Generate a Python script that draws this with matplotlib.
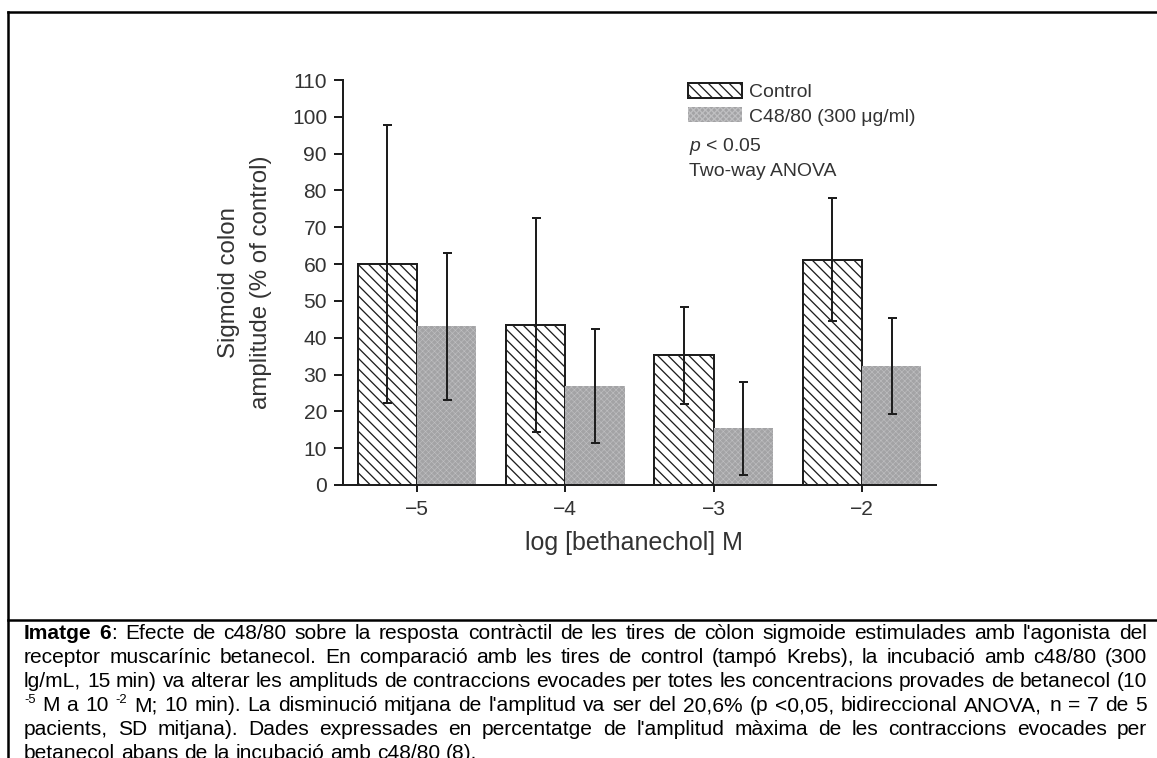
import re
import numpy as np
import matplotlib
matplotlib.use("Agg")
import matplotlib.pyplot as plt
from matplotlib.lines import Line2D
from matplotlib.font_manager import FontProperties

plt.rcParams['font.family'] = ['Liberation Sans', 'DejaVu Sans']
plt.rcParams['mathtext.fontset'] = 'custom'
plt.rcParams['mathtext.rm'] = 'Liberation Sans'
plt.rcParams['mathtext.it'] = 'Liberation Sans:italic'

DPI = 125
W, H = 1157, 758


def pt(px):
    # pixel size -> points at this dpi
    return px * 72.0 / DPI


# data (mean and SD, % of control)
conc = [-5, -4, -3, -2]
control_mean = [60.0, 43.5, 35.2, 61.2]
control_sd = [37.8, 29.0, 13.2, 16.7]
c48_mean = [43.1, 27.0, 15.4, 32.3]
c48_sd = [20.0, 15.5, 12.7, 13.0]
yticks = list(range(0, 111, 10))
series_names = ["Control", "C48/80 (300 μg/ml)"]
notes = [r"$\it{p}$ < 0.05", "Two-way ANOVA"]

caption = [
    "**Imatge** **6**: Efecte de c48/80 sobre la resposta contràctil de les tires de còlon sigmoide estimulades amb l'agonista del",
    "receptor muscarínic betanecol. En comparació amb les tires de control (tampó Krebs), la incubació amb c48/80 (300",
    "lg/mL, 15 min) va alterar les amplituds de contraccions evocades per totes les concentracions provades de betanecol (10",
    "^-5 M a 10 ^-2 M; 10 min). La disminució mitjana de l'amplitud va ser del 20,6% (p <0,05, bidireccional ANOVA, n = 7 de 5",
    "pacients, SD mitjana). Dades expressades en percentatge de l'amplitud màxima de les contraccions evocades per",
    "betanecol abans de la incubació amb c48/80 (8).",
]

fig = plt.figure(figsize=(W / DPI, H / DPI), dpi=DPI)
fig.patch.set_facecolor('white')

# frame lines of the page box
lw_frame = pt(2.5)
fig.add_artist(Line2D([8 / W, 8 / W], [0, 1 - 12 / H], color='black', lw=lw_frame))
fig.add_artist(Line2D([8 / W, 1], [1 - 12 / H, 1 - 12 / H], color='black', lw=lw_frame))
fig.add_artist(Line2D([8 / W, 1], [1 - 619.5 / H, 1 - 619.5 / H], color='black', lw=lw_frame))

ax = fig.add_axes([343 / W, 1 - 485 / H, 593 / W, 405 / H])

x = np.array(conc, dtype=float)
w = 0.4
dark = '#1e1e1e'
grey_txt = '#333333'

plt.rcParams['hatch.linewidth'] = pt(1.3)
b1 = ax.bar(x - w / 2, control_mean, w, facecolor='white', edgecolor=dark,
            linewidth=pt(2), hatch='\\\\\\\\', zorder=2)
b2 = ax.bar(x + w / 2, c48_mean, w, facecolor='#a3a3a5', edgecolor='#bfbfc1',
            linewidth=0, hatch='xxxxxxx', zorder=2)
for p in b2:
    if hasattr(p, 'set_hatch_linewidth'):
        p.set_hatch_linewidth(pt(0.6))

ax.errorbar(x - w / 2, control_mean, yerr=control_sd, fmt='none', ecolor=dark,
            elinewidth=pt(2), capsize=pt(4.5), capthick=pt(2), zorder=3)
ax.errorbar(x + w / 2, c48_mean, yerr=c48_sd, fmt='none', ecolor=dark,
            elinewidth=pt(2), capsize=pt(4.5), capthick=pt(2), zorder=3)

ax.set_xlim(-5.5, -1.5)
ax.set_ylim(0, 110)
ax.set_xticks(conc)
ax.set_yticks(yticks)
for s in ['top', 'right']:
    ax.spines[s].set_visible(False)
for s in ['left', 'bottom']:
    ax.spines[s].set_linewidth(pt(2))
    ax.spines[s].set_color(dark)
ax.tick_params(axis='y', length=pt(9), width=pt(2), pad=pt(7), labelsize=pt(21),
               color=dark, labelcolor=grey_txt)
ax.tick_params(axis='x', length=pt(7), width=pt(2), pad=pt(8), labelsize=pt(21),
               color=dark, labelcolor=grey_txt)

ax.set_ylabel("Sigmoid colon\namplitude (% of control)", fontsize=pt(24),
              color=grey_txt, linespacing=1.55)
ax.yaxis.set_label_coords(-0.12, 0.5)
ax.set_xlabel("log [bethanechol] M", fontsize=pt(25), color=grey_txt)
ax.xaxis.set_label_coords(0.49, -0.113)

leg = ax.legend(handles=[b1, b2], labels=series_names, loc='upper left',
                bbox_to_anchor=(0.582, 0.993), frameon=False, fontsize=pt(19.4),
                handlelength=2.8, handleheight=0.82, handletextpad=0.36,
                borderpad=0, borderaxespad=0, labelspacing=0.32)
for t in leg.get_texts():
    t.set_color(grey_txt)
ax.text(0.5835, 0.836, notes[0], transform=ax.transAxes, va='center', ha='left',
        fontsize=pt(19.4), color=grey_txt)
ax.text(0.5835, 0.773, notes[1], transform=ax.transAxes, va='center', ha='left',
        fontsize=pt(19.4), color=grey_txt)

# caption, justified between x0 and x1
renderer = fig.canvas.get_renderer()
x0, x1 = 24, 1147


def make_props(size_px):
    return {
        'n': FontProperties(family='Liberation Sans', size=pt(size_px)),
        'b': FontProperties(family='Liberation Sans', size=pt(size_px), weight='bold'),
        's': FontProperties(family='Liberation Sans', size=pt(size_px * 0.62)),
    }


def text_w(s, style, props):
    return renderer.get_text_width_height_descent(s, props[style], ismath=False)[0]


def split_word(word):
    segs = []
    for m in re.finditer(r'\*\*(.+?)\*\*|\^(\S+)|([^*^]+)', word):
        if m.group(1):
            segs.append((m.group(1), 'b'))
        elif m.group(2):
            segs.append((m.group(2), 's'))
        else:
            segs.append((m.group(3), 'n'))
    return segs


words_by_line = [[split_word(wd) for wd in line.split(' ')] for line in caption]

# largest size where the tightest justified line still has normal spaces
size_px = 22.0
while size_px > 15:
    props = make_props(size_px)
    space_w = text_w("a a", 'n', props) - text_w("aa", 'n', props)
    ok = True
    for words in words_by_line[:-1]:
        tot = sum(text_w(s, st, props) for wd in words for s, st in wd)
        if (x1 - x0 - tot) / (len(words) - 1) < 0.95 * space_w:
            ok = False
    if ok:
        break
    size_px -= 0.25

props = make_props(size_px)
space_w = text_w("a a", 'n', props) - text_w("aa", 'n', props)
for i, words in enumerate(words_by_line):
    base = 639 + 24 * i
    widths = [sum(text_w(s, st, props) for s, st in wd) for wd in words]
    if i < len(words_by_line) - 1:
        gap = (x1 - x0 - sum(widths)) / (len(words) - 1)
    else:
        gap = space_w
    cx = x0
    for wd, ww in zip(words, widths):
        sx = cx
        for s, st in wd:
            yy = base - size_px * 0.38 if st == 's' else base
            fig.text(sx / W, 1 - yy / H, s, fontproperties=props[st],
                     va='baseline', ha='left', color='black')
            sx += text_w(s, st, props)
        cx += ww + gap

fig.savefig("out.png", dpi=DPI, facecolor='white')
